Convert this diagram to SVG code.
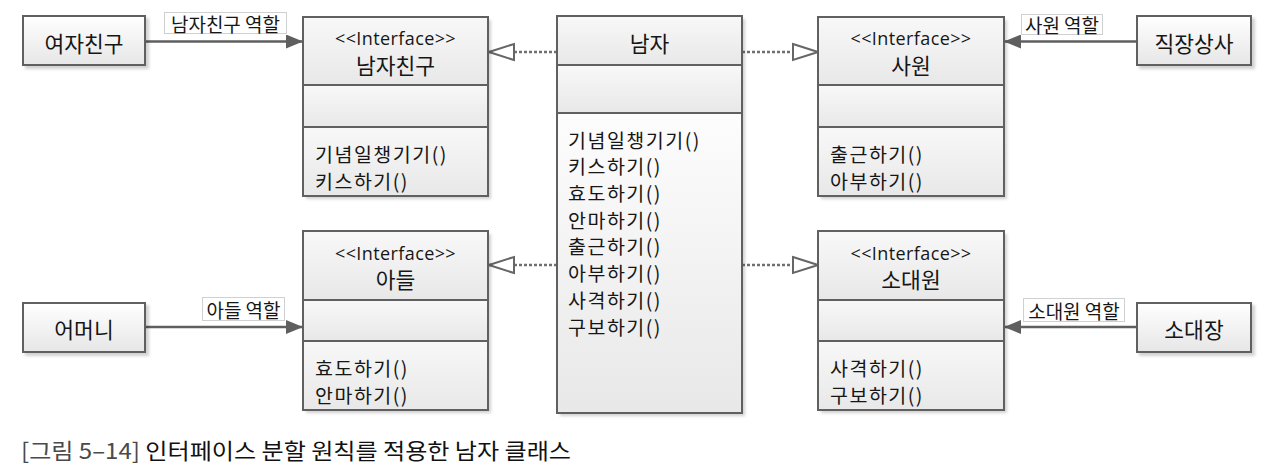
<svg xmlns="http://www.w3.org/2000/svg" width="1272" height="475" viewBox="0 0 1272 475">
<defs>
<linearGradient id="gBox" x1="0" y1="0" x2="0" y2="1">
<stop offset="0" stop-color="#ffffff"/>
<stop offset="1" stop-color="#e6e6e6"/>
</linearGradient>
<linearGradient id="gSec" x1="0" y1="0" x2="0" y2="1">
<stop offset="0" stop-color="#f8f8f8"/>
<stop offset="1" stop-color="#e8e8e8"/>
</linearGradient>
<linearGradient id="gTall" x1="0" y1="0" x2="0" y2="1">
<stop offset="0" stop-color="#fdfdfd"/>
<stop offset="1" stop-color="#e8e8e8"/>
</linearGradient>
<filter id="sh" x="-10%" y="-10%" width="130%" height="130%">
<feDropShadow dx="3" dy="3" stdDeviation="1.5" flood-color="#000" flood-opacity="0.18"/>
</filter>
<marker id="arr" markerWidth="18" markerHeight="14" refX="17" refY="7" orient="auto" markerUnits="userSpaceOnUse">
<path d="M0,0 L17,7 L0,14 Z" fill="#5f5f5f"/>
</marker>
<marker id="tri" markerWidth="28" markerHeight="20" refX="26" refY="10" orient="auto" markerUnits="userSpaceOnUse">
<path d="M1,2 L26,10 L1,18 Z" fill="#fff" stroke="#666" stroke-width="2"/>
</marker>
<style>
.box{fill:url(#gBox);stroke:#606060;stroke-width:2}
.sec{fill:url(#gSec);stroke:#606060;stroke-width:2}
.tall{fill:url(#gTall);stroke:#606060;stroke-width:2}
.t{font-family:"Noto Sans CJK KR","Noto Sans",sans-serif;fill:#161616;dominant-baseline:central}
.name{font-size:21.5px;text-anchor:middle}
.ster{font-family:"Open Sans","Noto Sans CJK KR",sans-serif;font-size:18px;letter-spacing:0.4px;text-anchor:middle;fill:#161616;dominant-baseline:central}
.m{font-size:19.5px;letter-spacing:1.5px}
.lbl{fill:#fff;stroke:#d0d0d0;stroke-width:1}
.lt{font-size:19px;text-anchor:middle}
.assoc{stroke:#5f5f5f;stroke-width:2.5;fill:none;marker-end:url(#arr)}
.real{stroke:#707070;stroke-width:2.5;fill:none;stroke-dasharray:3 2;marker-end:url(#tri)}
.cap{font-family:"Noto Sans CJK KR",sans-serif;font-size:22px;dominant-baseline:central}
</style>
</defs>
<rect width="1272" height="475" fill="#fff"/>

<g id="connectors">
<line class="assoc" x1="145" y1="41.5" x2="303" y2="41.5"/>
<line class="assoc" x1="145" y1="327" x2="303" y2="327"/>
<line class="assoc" x1="1137" y1="41.5" x2="1004" y2="41.5"/>
<line class="assoc" x1="1137" y1="327" x2="1004" y2="327"/>
<line class="real" x1="557" y1="52" x2="489" y2="52"/>
<line class="real" x1="742" y1="52" x2="818" y2="52"/>
<line class="real" x1="557" y1="265" x2="489" y2="265"/>
<line class="real" x1="742" y1="265" x2="818" y2="265"/>
<g id="labels">
<rect class="lbl" x="164.5" y="12.5" width="122" height="21"/>
<text class="t lt" x="225.5" y="23">남자친구 역할</text>
<rect class="lbl" x="202.5" y="297.5" width="82" height="23"/>
<text class="t lt" x="243.5" y="309">아들 역할</text>
<rect class="lbl" x="1021.5" y="14.5" width="81" height="20"/>
<text class="t lt" x="1062" y="24.5">사원 역할</text>
<rect class="lbl" x="1023.5" y="298.5" width="101" height="23"/>
<text class="t lt" x="1074" y="310">소대원 역할</text>
</g>
</g>

<g id="girlfriend">
<rect class="box" x="23" y="16" width="122" height="49" filter="url(#sh)"/>
<text class="t name" x="84" y="42">여자친구</text>
</g>
<g id="mother">
<rect class="box" x="23" y="303" width="122" height="49" filter="url(#sh)"/>
<text class="t name" x="84" y="328">어머니</text>
</g>
<g id="boss">
<rect class="box" x="1137" y="16" width="114" height="49" filter="url(#sh)"/>
<text class="t name" x="1194" y="42">직장상사</text>
</g>
<g id="captain">
<rect class="box" x="1137" y="303" width="114" height="49" filter="url(#sh)"/>
<text class="t name" x="1194" y="328">소대장</text>
</g>

<g id="iface-boyfriend">
<rect x="303" y="17" width="185" height="179" fill="#fff" filter="url(#sh)"/>
<rect class="sec" x="303" y="17" width="185" height="68"/>
<rect class="sec" x="303" y="85" width="185" height="42"/>
<rect class="sec" x="303" y="127" width="185" height="69"/>
<text class="ster" x="395.5" y="38">&lt;&lt;Interface&gt;&gt;</text>
<text class="t name" x="395.5" y="64.5">남자친구</text>
<text class="t m" x="315" y="153">기념일챙기기()</text>
<text class="t m" x="315" y="180">키스하기()</text>
</g>

<g id="iface-son">
<rect x="303" y="231" width="185" height="179" fill="#fff" filter="url(#sh)"/>
<rect class="sec" x="303" y="231" width="185" height="69"/>
<rect class="sec" x="303" y="300" width="185" height="41"/>
<rect class="sec" x="303" y="341" width="185" height="69"/>
<text class="ster" x="395.5" y="252.5">&lt;&lt;Interface&gt;&gt;</text>
<text class="t name" x="395.5" y="278">아들</text>
<text class="t m" x="315" y="367">효도하기()</text>
<text class="t m" x="315" y="394">안마하기()</text>
</g>

<g id="man">
<rect x="557" y="16" width="185" height="397" fill="#fff" filter="url(#sh)"/>
<rect class="sec" x="557" y="16" width="185" height="49"/>
<rect class="sec" x="557" y="65" width="185" height="48"/>
<rect class="tall" x="557" y="113" width="185" height="300"/>
<text class="t name" x="649.5" y="42">남자</text>
<text class="t m" x="568" y="139">기념일챙기기()</text>
<text class="t m" x="568" y="165.7">키스하기()</text>
<text class="t m" x="568" y="192.4">효도하기()</text>
<text class="t m" x="568" y="219.1">안마하기()</text>
<text class="t m" x="568" y="245.8">출근하기()</text>
<text class="t m" x="568" y="272.5">아부하기()</text>
<text class="t m" x="568" y="299.2">사격하기()</text>
<text class="t m" x="568" y="326">구보하기()</text>
</g>

<g id="iface-employee">
<rect x="818" y="17" width="186" height="179" fill="#fff" filter="url(#sh)"/>
<rect class="sec" x="818" y="17" width="186" height="68"/>
<rect class="sec" x="818" y="85" width="186" height="42"/>
<rect class="sec" x="818" y="127" width="186" height="69"/>
<text class="ster" x="911" y="38">&lt;&lt;Interface&gt;&gt;</text>
<text class="t name" x="911" y="64.5">사원</text>
<text class="t m" x="830" y="153">출근하기()</text>
<text class="t m" x="830" y="180">아부하기()</text>
</g>

<g id="iface-soldier">
<rect x="818" y="231" width="186" height="179" fill="#fff" filter="url(#sh)"/>
<rect class="sec" x="818" y="231" width="186" height="69"/>
<rect class="sec" x="818" y="300" width="186" height="41"/>
<rect class="sec" x="818" y="341" width="186" height="69"/>
<text class="ster" x="911" y="252.5">&lt;&lt;Interface&gt;&gt;</text>
<text class="t name" x="911" y="278">소대원</text>
<text class="t m" x="830" y="367">사격하기()</text>
<text class="t m" x="830" y="394">구보하기()</text>
</g>

<text class="cap" x="21" y="449" textLength="550" lengthAdjust="spacingAndGlyphs"><tspan fill="#4a4a4a">[그림 5–14]</tspan><tspan fill="#111"> 인터페이스 분할 원칙를 적용한 남자 클래스</tspan></text>
</svg>
